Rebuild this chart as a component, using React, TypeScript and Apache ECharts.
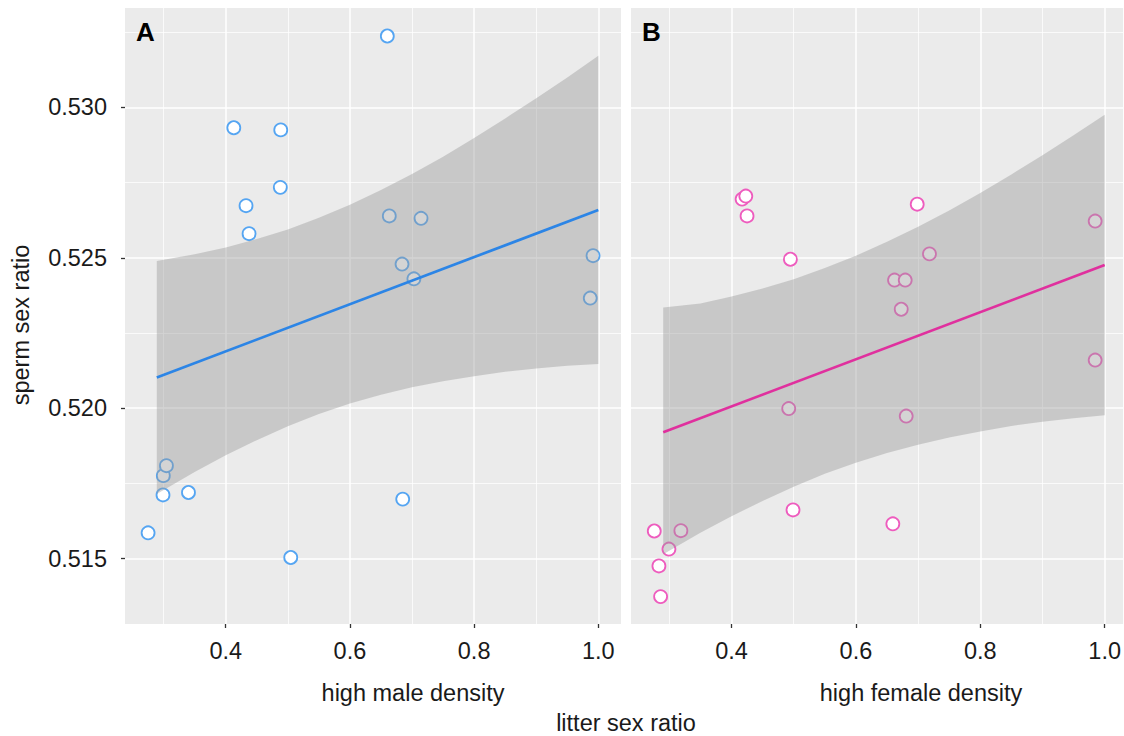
import React, { useEffect, useRef } from "react";
import * as echarts from "echarts";

// ---- tick values ----
const xTicks = [0.4, 0.6, 0.8, 1.0];
const yTicks = [0.515, 0.52, 0.525, 0.53];

// ---- panel A: high male density ----
const maleX = [0.275, 0.299, 0.34, 0.2995, 0.3045, 0.413, 0.4886, 0.4879, 0.4327, 0.4376, 0.5047, 0.6602, 0.6634, 0.7145, 0.6839, 0.703, 0.685, 0.9915, 0.987];
const maleY = [0.51586, 0.51712, 0.5172, 0.51776, 0.51809, 0.52932, 0.52925, 0.52734, 0.52673, 0.5258, 0.51504, 0.53237, 0.52639, 0.52631, 0.52479, 0.5243, 0.51698, 0.52507, 0.52366];
const maleFitX = [0.289, 1.0];
const maleFitY = [0.52102, 0.52659];
const maleBandX = [0.289, 0.35, 0.4, 0.45, 0.5, 0.55, 0.6, 0.65, 0.7, 0.75, 0.8, 0.85, 0.9, 0.95, 1.0];
const maleBandUpper = [0.52489, 0.52512, 0.52534, 0.52562, 0.52594, 0.52633, 0.52676, 0.52725, 0.52778, 0.52836, 0.52898, 0.52963, 0.5303, 0.53099, 0.53171];
const maleBandLower = [0.51715, 0.51788, 0.51844, 0.51894, 0.5194, 0.51981, 0.52016, 0.52045, 0.5207, 0.5209, 0.52106, 0.52121, 0.52132, 0.52141, 0.52147];

// ---- panel B: high female density ----
const femaleX = [0.417, 0.423, 0.425, 0.4947, 0.2758, 0.3186, 0.2994, 0.2833, 0.286, 0.6986, 0.7183, 0.6621, 0.6793, 0.6729, 0.492, 0.6809, 0.4989, 0.6594, 0.9847, 0.9847];
const femaleY = [0.52695, 0.52705, 0.52639, 0.52495, 0.51592, 0.51593, 0.51532, 0.51476, 0.51374, 0.52678, 0.52513, 0.52426, 0.52426, 0.52329, 0.51999, 0.51974, 0.51662, 0.51616, 0.52622, 0.5216];
const femaleFitX = [0.2902, 1.0];
const femaleFitY = [0.5192, 0.52476];
const femaleBandX = [0.2902, 0.35, 0.4, 0.45, 0.5, 0.55, 0.6, 0.65, 0.7, 0.75, 0.8, 0.85, 0.9, 0.95, 1.0];
const femaleBandUpper = [0.52335, 0.52348, 0.52371, 0.52398, 0.52429, 0.52466, 0.52507, 0.52553, 0.52603, 0.52657, 0.52715, 0.52777, 0.52841, 0.52907, 0.52975];
const femaleBandLower = [0.51515, 0.51586, 0.51641, 0.51692, 0.51739, 0.51782, 0.51819, 0.51851, 0.51879, 0.51903, 0.51923, 0.51941, 0.51955, 0.51967, 0.51977];

const FONT = "'Liberation Sans', Arial, Helvetica, sans-serif";
const TEXT = "#1a1a1a";

function makeX(gridIndex: number, min: number, max: number) {
  return {
    type: "value",
    gridIndex,
    min,
    max,
    splitNumber: 4,
    minInterval: 0.2,
    maxInterval: 0.2,
    axisLine: { show: false },
    axisTick: { show: true, length: 4, customValues: xTicks, lineStyle: { color: "#333", width: 1.3 } },
    axisLabel: {
      customValues: xTicks,
      margin: 15,
      fontSize: 23.5,
      color: TEXT,
      fontFamily: FONT,
      formatter: (v: number) => v.toFixed(1),
    },
    splitLine: { show: true, lineStyle: { color: "#ffffff", width: 1.5 } },
    minorTick: { show: false, splitNumber: 2 },
    minorSplitLine: { show: true, lineStyle: { color: "#ffffff", width: 0.75 } },
  };
}

function makeY(gridIndex: number, showLabels: boolean) {
  return {
    type: "value",
    gridIndex,
    min: 0.51283,
    max: 0.5333,
    splitNumber: 4,
    minInterval: 0.005,
    maxInterval: 0.005,
    axisLine: { show: false },
    axisTick: { show: showLabels, length: 4, customValues: yTicks, lineStyle: { color: "#333", width: 1.3 } },
    axisLabel: {
      show: showLabels,
      customValues: yTicks,
      margin: 18,
      fontSize: 23.5,
      color: TEXT,
      fontFamily: FONT,
      formatter: (v: number) => v.toFixed(3),
    },
    splitLine: { show: true, lineStyle: { color: "#ffffff", width: 1.5 } },
    minorTick: { show: false, splitNumber: 2 },
    minorSplitLine: { show: true, lineStyle: { color: "#ffffff", width: 0.75 } },
  };
}

function bandSeries(idx: number, xs: number[], up: number[], lo: number[]) {
  return {
    type: "custom",
    xAxisIndex: idx,
    yAxisIndex: idx,
    z: 3,
    silent: true,
    data: [[xs[0], up[0]]],
    renderItem: (_params: any, api: any) => {
      const pts: number[][] = [];
      for (let i = 0; i < xs.length; i++) pts.push(api.coord([xs[i], up[i]]));
      for (let i = xs.length - 1; i >= 0; i--) pts.push(api.coord([xs[i], lo[i]]));
      return {
        type: "polygon",
        shape: { points: pts },
        style: { fill: "rgba(153,153,153,0.42)", stroke: "none" },
      };
    },
  };
}

function scatterSeries(idx: number, xs: number[], ys: number[], color: string) {
  return {
    type: "scatter",
    xAxisIndex: idx,
    yAxisIndex: idx,
    z: 2,
    symbol: "circle",
    symbolSize: 13,
    itemStyle: { color: "#ffffff", borderColor: color, borderWidth: 1.8, opacity: 1 },
    data: xs.map((x, i) => [x, ys[i]]),
  };
}

function lineSeries(idx: number, xs: number[], ys: number[], color: string) {
  return {
    type: "line",
    xAxisIndex: idx,
    yAxisIndex: idx,
    z: 4,
    showSymbol: false,
    symbol: "none",
    lineStyle: { color, width: 2.7 },
    data: xs.map((x, i) => [x, ys[i]]),
  };
}

export default function App() {
  const ref = useRef<HTMLDivElement>(null);
  useEffect(() => {
    if (!ref.current) return;
    const chart = echarts.init(ref.current, undefined, { renderer: "svg" });
    const option: any = {
      animation: false,
      backgroundColor: "#ffffff",
      grid: [
        { left: 125, top: 8, width: 496, height: 616, show: true, backgroundColor: "#EBEBEB", borderWidth: 0 },
        { left: 631, top: 8, width: 493, height: 616, show: true, backgroundColor: "#EBEBEB", borderWidth: 0 },
      ],
      xAxis: [makeX(0, 0.2378, 1.0365), makeX(1, 0.2384, 1.0297)],
      yAxis: [makeY(0, true), makeY(1, false)],
      series: [
        scatterSeries(0, maleX, maleY, "#55A5F2"),
        bandSeries(0, maleBandX, maleBandUpper, maleBandLower),
        lineSeries(0, maleFitX, maleFitY, "#2C85E6"),
        scatterSeries(1, femaleX, femaleY, "#EE5CBE"),
        bandSeries(1, femaleBandX, femaleBandUpper, femaleBandLower),
        lineSeries(1, femaleFitX, femaleFitY, "#E0309E"),
      ],
      graphic: [
        { type: "text", x: 136, y: 32, style: { text: "A", font: `bold 26px ${FONT}`, fill: "#000", verticalAlign: "middle" }, z: 10 },
        { type: "text", x: 642, y: 32, style: { text: "B", font: `bold 26px ${FONT}`, fill: "#000", verticalAlign: "middle" }, z: 10 },
        { type: "text", x: 413, y: 693, style: { text: "high male density", font: `23.5px ${FONT}`, fill: TEXT, align: "center", verticalAlign: "middle" } },
        { type: "text", x: 921, y: 693, style: { text: "high female density", font: `23.5px ${FONT}`, fill: TEXT, align: "center", verticalAlign: "middle" } },
        { type: "text", x: 626, y: 723, style: { text: "litter sex ratio", font: `23.5px ${FONT}`, fill: TEXT, align: "center", verticalAlign: "middle" } },
        { type: "text", x: 21, y: 325, rotation: Math.PI / 2, style: { text: "sperm sex ratio", font: `23.5px ${FONT}`, fill: TEXT, align: "center", verticalAlign: "middle" } },
      ],
    };
    chart.setOption(option);
    return () => chart.dispose();
  }, []);
  return <div ref={ref} style={{ position: "absolute", left: 0, top: 0, width: 1124, height: 736 }} />;
}
